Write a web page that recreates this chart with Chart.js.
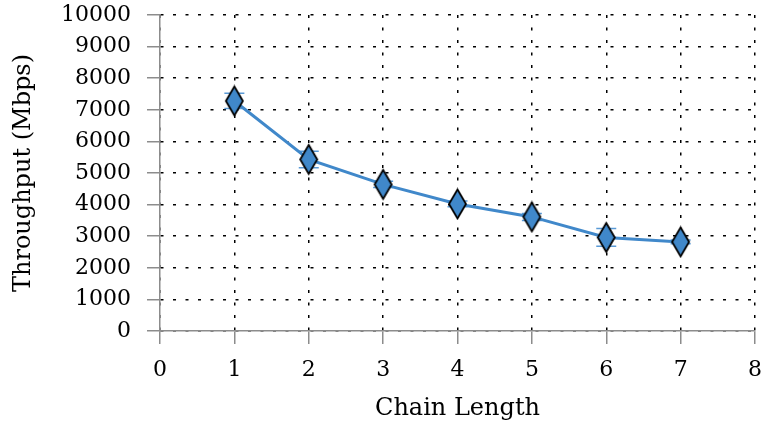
<!DOCTYPE html>
<html>
<head>
<meta charset="utf-8">
<script src="https://cdn.jsdelivr.net/npm/chart.js@4/dist/chart.umd.min.js"></script>
<style>
  html, body { margin: 0; padding: 0; background: #fff; }
  #wrap { width: 763px; height: 427px; }
</style>
</head>
<body>
<div id="wrap"><canvas id="chart" width="763" height="427"></canvas></div>
<script>
// data
const chainLength = [1, 2, 3, 4, 5, 6, 7];
const throughput = [7280, 5430, 4640, 4020, 3610, 2960, 2820];
const throughputErr = [240, 260, 100, 90, 110, 280, 60];
const xTicks = [0, 1, 2, 3, 4, 5, 6, 7, 8];
const yTicks = [0, 1000, 2000, 3000, 4000, 5000, 6000, 7000, 8000, 9000, 10000];

const blue = '#4088ca';
const fontFam = '"DejaVu Serif", serif';

// tall diamond marker
function makeDiamond(w, h) {
  const c = document.createElement('canvas');
  c.width = w + 4; c.height = h + 4;
  const g = c.getContext('2d');
  const cx = c.width / 2, cy = c.height / 2;
  g.beginPath();
  g.moveTo(cx, cy - h / 2);
  g.lineTo(cx + w / 2, cy);
  g.lineTo(cx, cy + h / 2);
  g.lineTo(cx - w / 2, cy);
  g.closePath();
  g.fillStyle = blue;
  g.fill();
  g.lineWidth = 1.8;
  g.strokeStyle = '#000';
  g.stroke();
  return c;
}
const diamond = makeDiamond(17, 29);

// error bar caps, drawn under the markers
const errorBars = {
  id: 'errorBars',
  beforeDatasetsDraw(chart) {
    const { ctx, scales: { x, y } } = chart;
    ctx.save();
    ctx.strokeStyle = '#5a9ad6';
    ctx.lineWidth = 1.5;
    chainLength.forEach((cl, i) => {
      const px = x.getPixelForValue(cl);
      const top = y.getPixelForValue(throughput[i] + throughputErr[i]);
      const bot = y.getPixelForValue(throughput[i] - throughputErr[i]);
      ctx.beginPath();
      ctx.moveTo(px, top); ctx.lineTo(px, bot);
      ctx.moveTo(px - 10, top); ctx.lineTo(px + 10, top);
      ctx.moveTo(px - 10, bot); ctx.lineTo(px + 10, bot);
      ctx.stroke();
    });
    ctx.restore();
  }
};

const gridCommon = {
  color: '#000',
  lineWidth: 1.5,
  tickColor: '#8c8c8c',
  tickWidth: 1.5,
  tickLength: 13,
  tickBorderDash: []
};

new Chart(document.getElementById('chart'), {
  type: 'scatter',
  data: {
    datasets: [{
      label: 'Throughput',
      data: chainLength.map((c, i) => ({ x: c, y: throughput[i] })),
      showLine: true,
      borderColor: blue,
      borderWidth: 3,
      pointStyle: diamond,
      pointRadius: 10,
      pointHoverRadius: 10
    }]
  },
  options: {
    responsive: false,
    animation: false,
    layout: { autoPadding: false, padding: { top: 15, right: 8, left: 0, bottom: 0 } },
    plugins: { legend: { display: false }, tooltip: { enabled: false } },
    scales: {
      x: {
        type: 'linear',
        min: 0, max: 8,
        afterBuildTicks: s => { s.ticks = xTicks.map(v => ({ value: v })); },
        afterFit: s => { s.height = 96; s.paddingLeft = 0; s.paddingRight = 0; },
        grid: gridCommon,
        border: { color: '#8c8c8c', width: 1.5, dash: [3, 9.5] },
        ticks: { color: '#000', padding: 13, font: { family: fontFam, size: 22 }, callback: v => String(v) },
        title: { display: true, text: 'Chain Length', color: '#000', padding: { top: 2 }, font: { family: fontFam, size: 24 } }
      },
      y: {
        min: 0, max: 10000,
        afterBuildTicks: s => { s.ticks = yTicks.map(v => ({ value: v })); },
        afterFit: s => { s.width = 160; s.paddingTop = 0; s.paddingBottom = 0; },
        grid: gridCommon,
        border: { color: '#8c8c8c', width: 1.5, dash: [3, 9.5] },
        ticks: { color: '#000', padding: 16, font: { family: fontFam, size: 22 }, callback: v => String(v) },
        title: { display: true, text: 'Throughput (Mbps)', color: '#000', padding: { top: 9, bottom: 0 }, font: { family: fontFam, size: 24 } }
      }
    }
  },
  plugins: [errorBars]
});
</script>
</body>
</html>
